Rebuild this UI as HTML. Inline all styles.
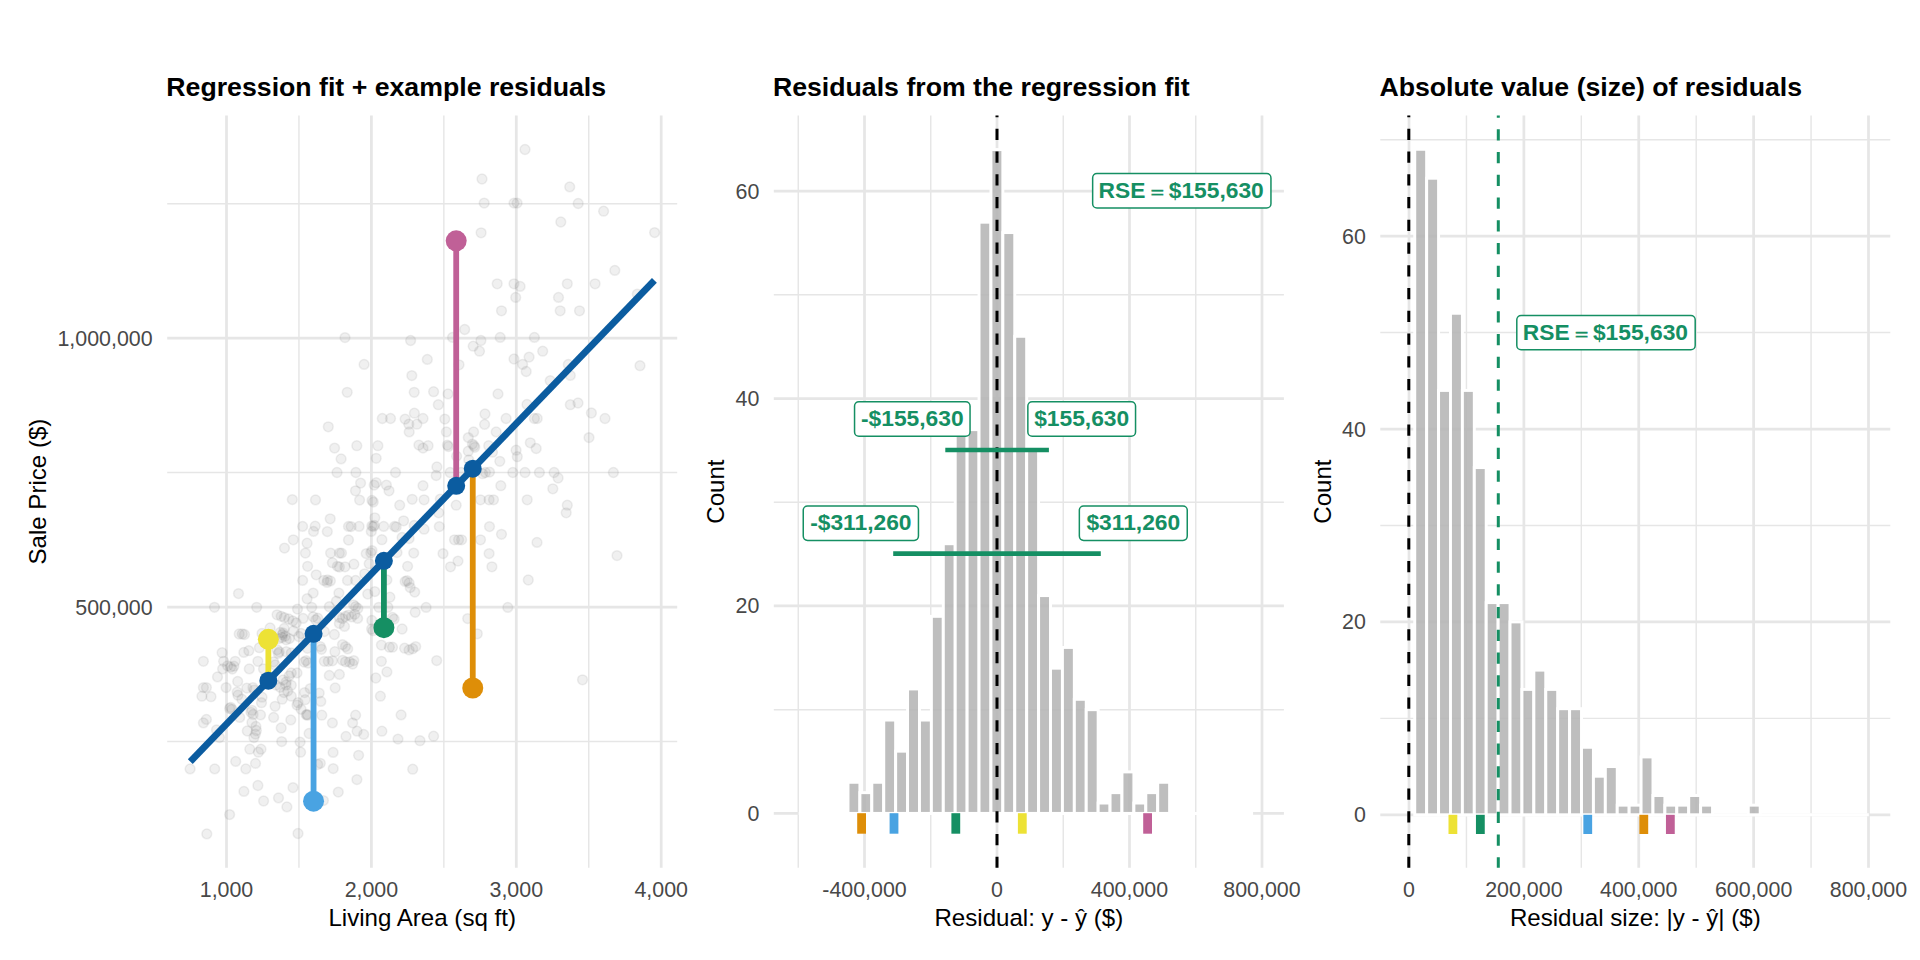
<!DOCTYPE html>
<html lang="en"><head><meta charset="utf-8"><title>Regression residuals</title>
<style>html,body{margin:0;padding:0;background:#fff;overflow:hidden}svg{display:block}</style>
</head><body>
<svg width="1920" height="960" viewBox="0 0 1920 960" font-family="'Liberation Sans', sans-serif">
<rect width="1920" height="960" fill="#fff"/>
<g id="p1">
<line x1="298.95" y1="115.5" x2="298.95" y2="867.7" stroke="#E6E6E6" stroke-width="1.45"/>
<line x1="443.85" y1="115.5" x2="443.85" y2="867.7" stroke="#E6E6E6" stroke-width="1.45"/>
<line x1="588.75" y1="115.5" x2="588.75" y2="867.7" stroke="#E6E6E6" stroke-width="1.45"/>
<line x1="167.2" y1="741.45" x2="677.2" y2="741.45" stroke="#E6E6E6" stroke-width="1.45"/>
<line x1="167.2" y1="472.55" x2="677.2" y2="472.55" stroke="#E6E6E6" stroke-width="1.45"/>
<line x1="167.2" y1="203.65" x2="677.2" y2="203.65" stroke="#E6E6E6" stroke-width="1.45"/>
<line x1="226.50" y1="115.5" x2="226.50" y2="867.7" stroke="#E6E6E6" stroke-width="2.75"/>
<line x1="371.40" y1="115.5" x2="371.40" y2="867.7" stroke="#E6E6E6" stroke-width="2.75"/>
<line x1="516.30" y1="115.5" x2="516.30" y2="867.7" stroke="#E6E6E6" stroke-width="2.75"/>
<line x1="661.20" y1="115.5" x2="661.20" y2="867.7" stroke="#E6E6E6" stroke-width="2.75"/>
<line x1="167.2" y1="607.00" x2="677.2" y2="607.00" stroke="#E6E6E6" stroke-width="2.75"/>
<line x1="167.2" y1="338.10" x2="677.2" y2="338.10" stroke="#E6E6E6" stroke-width="2.75"/>
<g fill="#7f7f7f" fill-opacity="0.115" stroke="#7f7f7f" stroke-opacity="0.12" stroke-width="1.5">
<circle cx="525.0" cy="149.5" r="4.9"/>
<circle cx="482.0" cy="179.0" r="4.9"/>
<circle cx="569.7" cy="186.9" r="4.9"/>
<circle cx="484.2" cy="203.1" r="4.9"/>
<circle cx="514.0" cy="203.1" r="4.9"/>
<circle cx="517.1" cy="203.1" r="4.9"/>
<circle cx="578.2" cy="203.5" r="4.9"/>
<circle cx="603.6" cy="211.2" r="4.9"/>
<circle cx="560.8" cy="222.0" r="4.9"/>
<circle cx="481.1" cy="232.8" r="4.9"/>
<circle cx="654.6" cy="232.6" r="4.9"/>
<circle cx="614.8" cy="270.4" r="4.9"/>
<circle cx="497.2" cy="283.8" r="4.9"/>
<circle cx="514.0" cy="283.8" r="4.9"/>
<circle cx="520.1" cy="286.4" r="4.9"/>
<circle cx="567.3" cy="283.8" r="4.9"/>
<circle cx="595.1" cy="283.8" r="4.9"/>
<circle cx="515.7" cy="297.4" r="4.9"/>
<circle cx="558.5" cy="297.4" r="4.9"/>
<circle cx="637.3" cy="294.1" r="4.9"/>
<circle cx="501.5" cy="310.8" r="4.9"/>
<circle cx="560.2" cy="310.8" r="4.9"/>
<circle cx="579.5" cy="310.8" r="4.9"/>
<circle cx="464.7" cy="329.5" r="4.9"/>
<circle cx="452.5" cy="337.4" r="4.9"/>
<circle cx="500.2" cy="337.4" r="4.9"/>
<circle cx="534.4" cy="337.4" r="4.9"/>
<circle cx="480.9" cy="340.5" r="4.9"/>
<circle cx="473.2" cy="346.2" r="4.9"/>
<circle cx="479.5" cy="351.2" r="4.9"/>
<circle cx="542.7" cy="351.2" r="4.9"/>
<circle cx="427.3" cy="359.4" r="4.9"/>
<circle cx="514.0" cy="359.0" r="4.9"/>
<circle cx="529.1" cy="357.1" r="4.9"/>
<circle cx="522.6" cy="364.4" r="4.9"/>
<circle cx="526.2" cy="371.5" r="4.9"/>
<circle cx="459.0" cy="364.8" r="4.9"/>
<circle cx="568.3" cy="364.4" r="4.9"/>
<circle cx="570.3" cy="375.4" r="4.9"/>
<circle cx="640.0" cy="365.7" r="4.9"/>
<circle cx="550.2" cy="380.7" r="4.9"/>
<circle cx="433.6" cy="391.7" r="4.9"/>
<circle cx="448.0" cy="393.9" r="4.9"/>
<circle cx="498.0" cy="393.9" r="4.9"/>
<circle cx="438.3" cy="404.7" r="4.9"/>
<circle cx="527.0" cy="404.5" r="4.9"/>
<circle cx="570.3" cy="404.7" r="4.9"/>
<circle cx="578.0" cy="403.0" r="4.9"/>
<circle cx="485.0" cy="414.0" r="4.9"/>
<circle cx="591.4" cy="413.0" r="4.9"/>
<circle cx="605.0" cy="418.5" r="4.9"/>
<circle cx="423.0" cy="418.5" r="4.9"/>
<circle cx="444.8" cy="419.1" r="4.9"/>
<circle cx="506.1" cy="418.5" r="4.9"/>
<circle cx="534.4" cy="418.5" r="4.9"/>
<circle cx="537.2" cy="418.5" r="4.9"/>
<circle cx="484.6" cy="424.4" r="4.9"/>
<circle cx="446.4" cy="431.9" r="4.9"/>
<circle cx="473.6" cy="431.9" r="4.9"/>
<circle cx="496.2" cy="431.9" r="4.9"/>
<circle cx="468.3" cy="437.6" r="4.9"/>
<circle cx="589.0" cy="437.6" r="4.9"/>
<circle cx="530.3" cy="442.8" r="4.9"/>
<circle cx="536.2" cy="448.5" r="4.9"/>
<circle cx="428.1" cy="445.7" r="4.9"/>
<circle cx="423.0" cy="448.1" r="4.9"/>
<circle cx="447.4" cy="445.1" r="4.9"/>
<circle cx="448.4" cy="446.5" r="4.9"/>
<circle cx="472.4" cy="444.1" r="4.9"/>
<circle cx="474.0" cy="445.7" r="4.9"/>
<circle cx="474.8" cy="447.3" r="4.9"/>
<circle cx="488.7" cy="445.7" r="4.9"/>
<circle cx="468.3" cy="451.2" r="4.9"/>
<circle cx="516.1" cy="450.2" r="4.9"/>
<circle cx="517.3" cy="456.7" r="4.9"/>
<circle cx="492.5" cy="452.2" r="4.9"/>
<circle cx="456.6" cy="456.2" r="4.9"/>
<circle cx="499.8" cy="461.3" r="4.9"/>
<circle cx="468.8" cy="459.9" r="4.9"/>
<circle cx="436.9" cy="467.0" r="4.9"/>
<circle cx="436.2" cy="475.5" r="4.9"/>
<circle cx="450.1" cy="472.5" r="4.9"/>
<circle cx="461.2" cy="472.5" r="4.9"/>
<circle cx="482.6" cy="473.7" r="4.9"/>
<circle cx="485.4" cy="472.5" r="4.9"/>
<circle cx="489.5" cy="472.1" r="4.9"/>
<circle cx="512.8" cy="472.5" r="4.9"/>
<circle cx="525.0" cy="472.5" r="4.9"/>
<circle cx="539.4" cy="472.5" r="4.9"/>
<circle cx="554.1" cy="472.5" r="4.9"/>
<circle cx="558.1" cy="478.0" r="4.9"/>
<circle cx="613.4" cy="472.5" r="4.9"/>
<circle cx="423.0" cy="485.7" r="4.9"/>
<circle cx="500.8" cy="485.7" r="4.9"/>
<circle cx="552.8" cy="488.8" r="4.9"/>
<circle cx="424.1" cy="499.8" r="4.9"/>
<circle cx="440.3" cy="499.1" r="4.9"/>
<circle cx="456.2" cy="505.2" r="4.9"/>
<circle cx="480.5" cy="499.8" r="4.9"/>
<circle cx="489.1" cy="499.8" r="4.9"/>
<circle cx="493.5" cy="499.8" r="4.9"/>
<circle cx="527.2" cy="499.8" r="4.9"/>
<circle cx="567.3" cy="505.2" r="4.9"/>
<circle cx="566.2" cy="512.8" r="4.9"/>
<circle cx="438.7" cy="512.8" r="4.9"/>
<circle cx="439.3" cy="526.6" r="4.9"/>
<circle cx="424.1" cy="529.2" r="4.9"/>
<circle cx="489.5" cy="526.6" r="4.9"/>
<circle cx="501.5" cy="534.3" r="4.9"/>
<circle cx="454.5" cy="539.8" r="4.9"/>
<circle cx="458.6" cy="539.8" r="4.9"/>
<circle cx="461.6" cy="539.8" r="4.9"/>
<circle cx="480.5" cy="539.8" r="4.9"/>
<circle cx="537.0" cy="542.4" r="4.9"/>
<circle cx="443.0" cy="553.6" r="4.9"/>
<circle cx="489.1" cy="553.6" r="4.9"/>
<circle cx="458.0" cy="561.1" r="4.9"/>
<circle cx="450.5" cy="566.8" r="4.9"/>
<circle cx="491.9" cy="566.8" r="4.9"/>
<circle cx="617.0" cy="555.6" r="4.9"/>
<circle cx="528.3" cy="580.0" r="4.9"/>
<circle cx="426.1" cy="607.4" r="4.9"/>
<circle cx="507.8" cy="607.4" r="4.9"/>
<circle cx="467.7" cy="618.6" r="4.9"/>
<circle cx="477.3" cy="633.8" r="4.9"/>
<circle cx="436.7" cy="660.6" r="4.9"/>
<circle cx="582.5" cy="679.8" r="4.9"/>
<circle cx="433.6" cy="736.2" r="4.9"/>
<circle cx="420.0" cy="740.7" r="4.9"/>
<circle cx="345.0" cy="337.6" r="4.9"/>
<circle cx="410.6" cy="340.5" r="4.9"/>
<circle cx="364.1" cy="364.4" r="4.9"/>
<circle cx="411.8" cy="375.6" r="4.9"/>
<circle cx="347.2" cy="392.3" r="4.9"/>
<circle cx="414.2" cy="392.3" r="4.9"/>
<circle cx="414.4" cy="413.2" r="4.9"/>
<circle cx="382.3" cy="418.5" r="4.9"/>
<circle cx="390.5" cy="418.5" r="4.9"/>
<circle cx="405.1" cy="419.1" r="4.9"/>
<circle cx="408.8" cy="424.2" r="4.9"/>
<circle cx="416.9" cy="424.2" r="4.9"/>
<circle cx="409.2" cy="431.9" r="4.9"/>
<circle cx="328.3" cy="426.8" r="4.9"/>
<circle cx="356.8" cy="445.7" r="4.9"/>
<circle cx="377.9" cy="445.7" r="4.9"/>
<circle cx="334.6" cy="448.1" r="4.9"/>
<circle cx="418.9" cy="445.1" r="4.9"/>
<circle cx="341.1" cy="458.9" r="4.9"/>
<circle cx="376.2" cy="458.3" r="4.9"/>
<circle cx="337.0" cy="472.5" r="4.9"/>
<circle cx="355.9" cy="472.5" r="4.9"/>
<circle cx="395.5" cy="472.5" r="4.9"/>
<circle cx="360.6" cy="483.1" r="4.9"/>
<circle cx="376.2" cy="482.7" r="4.9"/>
<circle cx="374.2" cy="485.1" r="4.9"/>
<circle cx="386.4" cy="485.1" r="4.9"/>
<circle cx="389.0" cy="490.8" r="4.9"/>
<circle cx="355.5" cy="490.8" r="4.9"/>
<circle cx="315.5" cy="499.9" r="4.9"/>
<circle cx="359.6" cy="500.1" r="4.9"/>
<circle cx="372.0" cy="500.4" r="4.9"/>
<circle cx="373.3" cy="502.1" r="4.9"/>
<circle cx="399.7" cy="505.2" r="4.9"/>
<circle cx="412.2" cy="499.3" r="4.9"/>
<circle cx="330.2" cy="518.8" r="4.9"/>
<circle cx="374.8" cy="517.8" r="4.9"/>
<circle cx="403.6" cy="520.8" r="4.9"/>
<circle cx="302.6" cy="526.4" r="4.9"/>
<circle cx="315.2" cy="526.2" r="4.9"/>
<circle cx="313.5" cy="531.4" r="4.9"/>
<circle cx="327.3" cy="531.6" r="4.9"/>
<circle cx="348.5" cy="526.4" r="4.9"/>
<circle cx="351.1" cy="526.6" r="4.9"/>
<circle cx="359.1" cy="526.4" r="4.9"/>
<circle cx="371.8" cy="525.9" r="4.9"/>
<circle cx="373.3" cy="526.6" r="4.9"/>
<circle cx="374.4" cy="525.4" r="4.9"/>
<circle cx="371.3" cy="531.4" r="4.9"/>
<circle cx="383.7" cy="526.4" r="4.9"/>
<circle cx="394.5" cy="526.4" r="4.9"/>
<circle cx="396.2" cy="527.0" r="4.9"/>
<circle cx="414.2" cy="525.4" r="4.9"/>
<circle cx="348.5" cy="540.0" r="4.9"/>
<circle cx="381.9" cy="539.7" r="4.9"/>
<circle cx="402.1" cy="537.5" r="4.9"/>
<circle cx="409.1" cy="538.5" r="4.9"/>
<circle cx="307.1" cy="543.2" r="4.9"/>
<circle cx="305.4" cy="553.1" r="4.9"/>
<circle cx="330.6" cy="553.1" r="4.9"/>
<circle cx="339.4" cy="553.1" r="4.9"/>
<circle cx="341.5" cy="553.1" r="4.9"/>
<circle cx="366.2" cy="553.6" r="4.9"/>
<circle cx="370.8" cy="552.8" r="4.9"/>
<circle cx="372.0" cy="550.6" r="4.9"/>
<circle cx="397.0" cy="552.6" r="4.9"/>
<circle cx="413.7" cy="553.1" r="4.9"/>
<circle cx="332.4" cy="562.7" r="4.9"/>
<circle cx="337.4" cy="566.3" r="4.9"/>
<circle cx="339.4" cy="567.0" r="4.9"/>
<circle cx="345.0" cy="566.8" r="4.9"/>
<circle cx="353.9" cy="564.2" r="4.9"/>
<circle cx="369.2" cy="563.7" r="4.9"/>
<circle cx="307.6" cy="566.3" r="4.9"/>
<circle cx="407.6" cy="566.3" r="4.9"/>
<circle cx="316.2" cy="574.8" r="4.9"/>
<circle cx="364.7" cy="573.8" r="4.9"/>
<circle cx="302.6" cy="580.4" r="4.9"/>
<circle cx="323.8" cy="580.4" r="4.9"/>
<circle cx="327.1" cy="582.4" r="4.9"/>
<circle cx="330.4" cy="580.9" r="4.9"/>
<circle cx="327.5" cy="579.9" r="4.9"/>
<circle cx="347.5" cy="580.4" r="4.9"/>
<circle cx="355.6" cy="580.4" r="4.9"/>
<circle cx="386.9" cy="579.9" r="4.9"/>
<circle cx="405.1" cy="581.4" r="4.9"/>
<circle cx="407.1" cy="580.7" r="4.9"/>
<circle cx="409.1" cy="582.9" r="4.9"/>
<circle cx="313.2" cy="593.1" r="4.9"/>
<circle cx="307.1" cy="598.7" r="4.9"/>
<circle cx="338.9" cy="593.1" r="4.9"/>
<circle cx="336.4" cy="601.2" r="4.9"/>
<circle cx="367.7" cy="594.1" r="4.9"/>
<circle cx="374.8" cy="591.6" r="4.9"/>
<circle cx="389.9" cy="597.2" r="4.9"/>
<circle cx="414.7" cy="592.1" r="4.9"/>
<circle cx="410.2" cy="587.6" r="4.9"/>
<circle cx="311.7" cy="607.3" r="4.9"/>
<circle cx="329.3" cy="606.7" r="4.9"/>
<circle cx="355.6" cy="606.7" r="4.9"/>
<circle cx="353.6" cy="605.0" r="4.9"/>
<circle cx="357.8" cy="608.5" r="4.9"/>
<circle cx="297.5" cy="609.1" r="4.9"/>
<circle cx="378.8" cy="607.3" r="4.9"/>
<circle cx="387.9" cy="607.3" r="4.9"/>
<circle cx="415.2" cy="612.3" r="4.9"/>
<circle cx="303.1" cy="618.4" r="4.9"/>
<circle cx="313.2" cy="616.8" r="4.9"/>
<circle cx="315.7" cy="619.9" r="4.9"/>
<circle cx="317.7" cy="618.2" r="4.9"/>
<circle cx="339.4" cy="617.4" r="4.9"/>
<circle cx="342.5" cy="618.6" r="4.9"/>
<circle cx="345.5" cy="616.3" r="4.9"/>
<circle cx="348.5" cy="615.1" r="4.9"/>
<circle cx="351.6" cy="616.9" r="4.9"/>
<circle cx="354.8" cy="614.3" r="4.9"/>
<circle cx="357.6" cy="618.4" r="4.9"/>
<circle cx="339.4" cy="623.4" r="4.9"/>
<circle cx="344.5" cy="626.4" r="4.9"/>
<circle cx="371.8" cy="620.4" r="4.9"/>
<circle cx="371.6" cy="629.0" r="4.9"/>
<circle cx="373.0" cy="630.7" r="4.9"/>
<circle cx="392.5" cy="617.4" r="4.9"/>
<circle cx="394.2" cy="619.1" r="4.9"/>
<circle cx="402.1" cy="629.0" r="4.9"/>
<circle cx="301.1" cy="633.5" r="4.9"/>
<circle cx="298.8" cy="636.5" r="4.9"/>
<circle cx="334.4" cy="634.5" r="4.9"/>
<circle cx="324.3" cy="631.5" r="4.9"/>
<circle cx="342.5" cy="644.6" r="4.9"/>
<circle cx="345.5" cy="646.6" r="4.9"/>
<circle cx="347.7" cy="648.9" r="4.9"/>
<circle cx="320.3" cy="646.6" r="4.9"/>
<circle cx="321.5" cy="649.3" r="4.9"/>
<circle cx="334.9" cy="651.7" r="4.9"/>
<circle cx="381.4" cy="645.1" r="4.9"/>
<circle cx="389.4" cy="647.2" r="4.9"/>
<circle cx="392.5" cy="647.2" r="4.9"/>
<circle cx="404.6" cy="648.2" r="4.9"/>
<circle cx="409.1" cy="649.9" r="4.9"/>
<circle cx="412.7" cy="648.7" r="4.9"/>
<circle cx="415.7" cy="646.6" r="4.9"/>
<circle cx="306.1" cy="660.6" r="4.9"/>
<circle cx="304.1" cy="662.0" r="4.9"/>
<circle cx="308.1" cy="663.0" r="4.9"/>
<circle cx="324.3" cy="661.3" r="4.9"/>
<circle cx="328.3" cy="661.3" r="4.9"/>
<circle cx="332.4" cy="660.8" r="4.9"/>
<circle cx="342.5" cy="660.3" r="4.9"/>
<circle cx="345.5" cy="661.8" r="4.9"/>
<circle cx="349.5" cy="662.0" r="4.9"/>
<circle cx="353.8" cy="660.6" r="4.9"/>
<circle cx="352.6" cy="664.0" r="4.9"/>
<circle cx="381.4" cy="661.3" r="4.9"/>
<circle cx="386.9" cy="671.9" r="4.9"/>
<circle cx="329.3" cy="675.4" r="4.9"/>
<circle cx="339.4" cy="674.4" r="4.9"/>
<circle cx="375.8" cy="678.0" r="4.9"/>
<circle cx="297.0" cy="672.9" r="4.9"/>
<circle cx="335.2" cy="687.9" r="4.9"/>
<circle cx="380.4" cy="696.2" r="4.9"/>
<circle cx="304.6" cy="692.6" r="4.9"/>
<circle cx="310.2" cy="688.6" r="4.9"/>
<circle cx="319.2" cy="693.1" r="4.9"/>
<circle cx="320.8" cy="701.4" r="4.9"/>
<circle cx="298.0" cy="702.7" r="4.9"/>
<circle cx="297.0" cy="705.1" r="4.9"/>
<circle cx="305.1" cy="699.7" r="4.9"/>
<circle cx="301.1" cy="709.3" r="4.9"/>
<circle cx="306.3" cy="714.9" r="4.9"/>
<circle cx="307.7" cy="715.2" r="4.9"/>
<circle cx="307.1" cy="714.4" r="4.9"/>
<circle cx="321.8" cy="715.2" r="4.9"/>
<circle cx="332.4" cy="722.9" r="4.9"/>
<circle cx="355.6" cy="715.2" r="4.9"/>
<circle cx="352.6" cy="722.9" r="4.9"/>
<circle cx="357.1" cy="731.2" r="4.9"/>
<circle cx="363.7" cy="734.4" r="4.9"/>
<circle cx="346.0" cy="736.4" r="4.9"/>
<circle cx="381.9" cy="731.2" r="4.9"/>
<circle cx="401.1" cy="714.9" r="4.9"/>
<circle cx="398.0" cy="739.1" r="4.9"/>
<circle cx="309.1" cy="733.5" r="4.9"/>
<circle cx="300.1" cy="742.1" r="4.9"/>
<circle cx="300.6" cy="752.2" r="4.9"/>
<circle cx="333.1" cy="752.4" r="4.9"/>
<circle cx="358.6" cy="755.3" r="4.9"/>
<circle cx="320.3" cy="763.3" r="4.9"/>
<circle cx="317.7" cy="764.5" r="4.9"/>
<circle cx="333.2" cy="768.6" r="4.9"/>
<circle cx="412.7" cy="769.2" r="4.9"/>
<circle cx="190.1" cy="768.9" r="4.9"/>
<circle cx="214.7" cy="768.9" r="4.9"/>
<circle cx="235.7" cy="761.4" r="4.9"/>
<circle cx="255.5" cy="763.4" r="4.9"/>
<circle cx="245.8" cy="768.9" r="4.9"/>
<circle cx="257.9" cy="785.5" r="4.9"/>
<circle cx="243.9" cy="791.4" r="4.9"/>
<circle cx="293.0" cy="787.6" r="4.9"/>
<circle cx="278.5" cy="797.9" r="4.9"/>
<circle cx="263.6" cy="801.0" r="4.9"/>
<circle cx="286.9" cy="806.9" r="4.9"/>
<circle cx="338.3" cy="792.1" r="4.9"/>
<circle cx="356.9" cy="779.6" r="4.9"/>
<circle cx="323.4" cy="800.6" r="4.9"/>
<circle cx="229.6" cy="814.6" r="4.9"/>
<circle cx="206.8" cy="833.9" r="4.9"/>
<circle cx="298.0" cy="833.5" r="4.9"/>
<circle cx="292.3" cy="499.6" r="4.9"/>
<circle cx="284.5" cy="548.1" r="4.9"/>
<circle cx="293.3" cy="539.8" r="4.9"/>
<circle cx="238.5" cy="593.6" r="4.9"/>
<circle cx="214.5" cy="607.3" r="4.9"/>
<circle cx="256.7" cy="607.3" r="4.9"/>
<circle cx="277.1" cy="614.8" r="4.9"/>
<circle cx="281.2" cy="616.3" r="4.9"/>
<circle cx="284.4" cy="617.6" r="4.9"/>
<circle cx="288.7" cy="619.0" r="4.9"/>
<circle cx="292.8" cy="620.9" r="4.9"/>
<circle cx="270.1" cy="628.0" r="4.9"/>
<circle cx="284.2" cy="628.5" r="4.9"/>
<circle cx="239.2" cy="634.0" r="4.9"/>
<circle cx="242.3" cy="634.0" r="4.9"/>
<circle cx="244.5" cy="634.5" r="4.9"/>
<circle cx="262.0" cy="633.5" r="4.9"/>
<circle cx="280.2" cy="632.5" r="4.9"/>
<circle cx="282.4" cy="634.7" r="4.9"/>
<circle cx="286.2" cy="639.8" r="4.9"/>
<circle cx="289.4" cy="638.6" r="4.9"/>
<circle cx="279.1" cy="638.6" r="4.9"/>
<circle cx="259.4" cy="647.7" r="4.9"/>
<circle cx="243.8" cy="652.4" r="4.9"/>
<circle cx="248.8" cy="650.7" r="4.9"/>
<circle cx="222.1" cy="652.7" r="4.9"/>
<circle cx="277.1" cy="649.7" r="4.9"/>
<circle cx="279.3" cy="651.9" r="4.9"/>
<circle cx="286.2" cy="651.7" r="4.9"/>
<circle cx="291.3" cy="652.9" r="4.9"/>
<circle cx="203.4" cy="661.3" r="4.9"/>
<circle cx="223.6" cy="661.3" r="4.9"/>
<circle cx="235.2" cy="661.3" r="4.9"/>
<circle cx="257.9" cy="661.3" r="4.9"/>
<circle cx="227.6" cy="665.8" r="4.9"/>
<circle cx="230.7" cy="667.1" r="4.9"/>
<circle cx="232.3" cy="669.1" r="4.9"/>
<circle cx="233.9" cy="666.2" r="4.9"/>
<circle cx="222.6" cy="668.9" r="4.9"/>
<circle cx="249.3" cy="668.9" r="4.9"/>
<circle cx="275.1" cy="665.0" r="4.9"/>
<circle cx="273.6" cy="661.8" r="4.9"/>
<circle cx="263.5" cy="668.9" r="4.9"/>
<circle cx="217.5" cy="676.9" r="4.9"/>
<circle cx="291.3" cy="672.9" r="4.9"/>
<circle cx="289.2" cy="675.9" r="4.9"/>
<circle cx="237.7" cy="681.5" r="4.9"/>
<circle cx="203.4" cy="687.6" r="4.9"/>
<circle cx="206.4" cy="687.6" r="4.9"/>
<circle cx="201.9" cy="696.2" r="4.9"/>
<circle cx="211.0" cy="696.7" r="4.9"/>
<circle cx="226.1" cy="687.6" r="4.9"/>
<circle cx="246.8" cy="688.1" r="4.9"/>
<circle cx="252.9" cy="687.6" r="4.9"/>
<circle cx="254.1" cy="690.1" r="4.9"/>
<circle cx="237.2" cy="692.1" r="4.9"/>
<circle cx="237.9" cy="695.2" r="4.9"/>
<circle cx="241.8" cy="699.2" r="4.9"/>
<circle cx="230.7" cy="707.3" r="4.9"/>
<circle cx="229.6" cy="708.5" r="4.9"/>
<circle cx="231.9" cy="709.3" r="4.9"/>
<circle cx="239.7" cy="717.4" r="4.9"/>
<circle cx="262.0" cy="697.2" r="4.9"/>
<circle cx="261.5" cy="702.7" r="4.9"/>
<circle cx="275.1" cy="706.3" r="4.9"/>
<circle cx="282.2" cy="699.2" r="4.9"/>
<circle cx="291.3" cy="696.2" r="4.9"/>
<circle cx="251.9" cy="710.3" r="4.9"/>
<circle cx="253.1" cy="714.4" r="4.9"/>
<circle cx="250.9" cy="712.3" r="4.9"/>
<circle cx="260.5" cy="714.9" r="4.9"/>
<circle cx="273.6" cy="717.4" r="4.9"/>
<circle cx="290.8" cy="719.9" r="4.9"/>
<circle cx="206.4" cy="719.4" r="4.9"/>
<circle cx="203.4" cy="722.9" r="4.9"/>
<circle cx="216.5" cy="730.0" r="4.9"/>
<circle cx="219.5" cy="737.6" r="4.9"/>
<circle cx="251.9" cy="722.4" r="4.9"/>
<circle cx="255.9" cy="726.5" r="4.9"/>
<circle cx="247.3" cy="731.0" r="4.9"/>
<circle cx="256.4" cy="730.5" r="4.9"/>
<circle cx="255.4" cy="734.1" r="4.9"/>
<circle cx="253.9" cy="737.6" r="4.9"/>
<circle cx="281.2" cy="728.0" r="4.9"/>
<circle cx="281.7" cy="741.6" r="4.9"/>
<circle cx="249.8" cy="749.2" r="4.9"/>
<circle cx="261.0" cy="749.2" r="4.9"/>
<circle cx="258.4" cy="752.2" r="4.9"/>
<circle cx="276.1" cy="685.1" r="4.9"/>
<circle cx="280.2" cy="687.3" r="4.9"/>
<circle cx="286.2" cy="682.0" r="4.9"/>
<circle cx="291.3" cy="685.3" r="4.9"/>
<circle cx="287.7" cy="691.1" r="4.9"/>
<circle cx="296.2" cy="622.9" r="4.9"/>
<circle cx="307.5" cy="648.3" r="4.9"/>
<circle cx="293.5" cy="631.0" r="4.9"/>
<circle cx="283.0" cy="633.0" r="4.9"/>
<circle cx="285.2" cy="636.2" r="4.9"/>
<circle cx="282.0" cy="637.5" r="4.9"/>
<circle cx="278.3" cy="653.4" r="4.9"/>
<circle cx="283.0" cy="680.0" r="4.9"/>
<circle cx="286.0" cy="685.0" r="4.9"/>
<circle cx="284.0" cy="692.5" r="4.9"/>
</g>
<line x1="268.35" y1="639.3" x2="268.35" y2="680.66" stroke="#EDE235" stroke-width="5.8"/>
<line x1="313.55" y1="801.2" x2="313.55" y2="633.78" stroke="#49A3E2" stroke-width="5.8"/>
<line x1="383.9" y1="627.7" x2="383.9" y2="560.82" stroke="#158F63" stroke-width="5.8"/>
<line x1="456.2" y1="240.85" x2="456.2" y2="485.85" stroke="#C06097" stroke-width="5.8"/>
<line x1="472.75" y1="688.0" x2="472.75" y2="468.68" stroke="#DE8E08" stroke-width="5.8"/>
<line x1="190.3" y1="761.6" x2="654.4" y2="280.3" stroke="#0B5CA0" stroke-width="6.8"/>
<circle cx="268.35" cy="639.3" r="10.5" fill="#EDE235"/>
<circle cx="313.55" cy="801.2" r="10.5" fill="#49A3E2"/>
<circle cx="383.9" cy="627.7" r="10.5" fill="#158F63"/>
<circle cx="456.2" cy="240.85" r="10.5" fill="#C06097"/>
<circle cx="472.75" cy="688.0" r="10.5" fill="#DE8E08"/>
<circle cx="268.35" cy="680.66" r="9.0" fill="#0B5CA0"/>
<circle cx="313.55" cy="633.78" r="9.0" fill="#0B5CA0"/>
<circle cx="383.9" cy="560.82" r="9.0" fill="#0B5CA0"/>
<circle cx="456.2" cy="485.85" r="9.0" fill="#0B5CA0"/>
<circle cx="472.75" cy="468.68" r="9.0" fill="#0B5CA0"/>
</g>
<text x="226.50" y="896.9" font-size="21.4" fill="#484848" text-anchor="middle">1,000</text>
<text x="371.40" y="896.9" font-size="21.4" fill="#484848" text-anchor="middle">2,000</text>
<text x="516.30" y="896.9" font-size="21.4" fill="#484848" text-anchor="middle">3,000</text>
<text x="661.20" y="896.9" font-size="21.4" fill="#484848" text-anchor="middle">4,000</text>
<text x="152.60" y="614.50" font-size="21.4" fill="#484848" text-anchor="end">500,000</text>
<text x="152.60" y="345.60" font-size="21.4" fill="#484848" text-anchor="end">1,000,000</text>
<text x="422.20" y="926.2" font-size="24.1" fill="#000" text-anchor="middle">Living Area (sq ft)</text>
<text transform="translate(45.70,491.60) rotate(-90)" font-size="24.1" fill="#000" text-anchor="middle">Sale Price ($)</text>
<text x="166.30" y="96.2" font-size="26.7" font-weight="bold" fill="#000">Regression fit + example residuals</text>
<g id="p2">
<line x1="798.25" y1="115.5" x2="798.25" y2="867.7" stroke="#E6E6E6" stroke-width="1.45"/>
<line x1="930.75" y1="115.5" x2="930.75" y2="867.7" stroke="#E6E6E6" stroke-width="1.45"/>
<line x1="1063.25" y1="115.5" x2="1063.25" y2="867.7" stroke="#E6E6E6" stroke-width="1.45"/>
<line x1="1195.75" y1="115.5" x2="1195.75" y2="867.7" stroke="#E6E6E6" stroke-width="1.45"/>
<line x1="773.8" y1="709.68" x2="1283.9" y2="709.68" stroke="#E6E6E6" stroke-width="1.45"/>
<line x1="773.8" y1="502.24" x2="1283.9" y2="502.24" stroke="#E6E6E6" stroke-width="1.45"/>
<line x1="773.8" y1="294.80" x2="1283.9" y2="294.80" stroke="#E6E6E6" stroke-width="1.45"/>
<line x1="864.50" y1="115.5" x2="864.50" y2="867.7" stroke="#E6E6E6" stroke-width="2.75"/>
<line x1="997.00" y1="115.5" x2="997.00" y2="867.7" stroke="#E6E6E6" stroke-width="2.75"/>
<line x1="1129.50" y1="115.5" x2="1129.50" y2="867.7" stroke="#E6E6E6" stroke-width="2.75"/>
<line x1="1262.00" y1="115.5" x2="1262.00" y2="867.7" stroke="#E6E6E6" stroke-width="2.75"/>
<line x1="773.8" y1="813.40" x2="1283.9" y2="813.40" stroke="#E6E6E6" stroke-width="2.75"/>
<line x1="773.8" y1="605.96" x2="1283.9" y2="605.96" stroke="#E6E6E6" stroke-width="2.75"/>
<line x1="773.8" y1="398.52" x2="1283.9" y2="398.52" stroke="#E6E6E6" stroke-width="2.75"/>
<line x1="773.8" y1="191.08" x2="1283.9" y2="191.08" stroke="#E6E6E6" stroke-width="2.75"/>
<line x1="798.7" y1="813.4" x2="1253.1" y2="813.4" stroke="#fff" stroke-width="2.95"/>
<g fill="#B3B3B3" fill-opacity="0.85" stroke="#fff" stroke-width="2.95">
<rect x="848.00" y="782.28" width="11.91" height="31.12"/>
<rect x="859.91" y="792.66" width="11.91" height="20.74"/>
<rect x="871.82" y="782.28" width="11.91" height="31.12"/>
<rect x="883.74" y="720.05" width="11.91" height="93.35"/>
<rect x="895.65" y="751.17" width="11.91" height="62.23"/>
<rect x="907.56" y="688.94" width="11.91" height="124.46"/>
<rect x="919.47" y="720.05" width="11.91" height="93.35"/>
<rect x="931.38" y="616.33" width="11.91" height="197.07"/>
<rect x="943.30" y="543.73" width="11.91" height="269.67"/>
<rect x="955.21" y="429.64" width="11.91" height="383.76"/>
<rect x="967.12" y="429.64" width="11.91" height="383.76"/>
<rect x="979.03" y="222.20" width="11.91" height="591.20"/>
<rect x="990.94" y="149.59" width="11.91" height="663.81"/>
<rect x="1002.86" y="232.57" width="11.91" height="580.83"/>
<rect x="1014.77" y="336.29" width="11.91" height="477.11"/>
<rect x="1026.68" y="450.38" width="11.91" height="363.02"/>
<rect x="1038.59" y="595.59" width="11.91" height="217.81"/>
<rect x="1050.50" y="668.19" width="11.91" height="145.21"/>
<rect x="1062.42" y="647.45" width="11.91" height="165.95"/>
<rect x="1074.33" y="699.31" width="11.91" height="114.09"/>
<rect x="1086.24" y="709.68" width="11.91" height="103.72"/>
<rect x="1098.15" y="803.03" width="11.91" height="10.37"/>
<rect x="1110.06" y="792.66" width="11.91" height="20.74"/>
<rect x="1121.98" y="771.91" width="11.91" height="41.49"/>
<rect x="1133.89" y="803.03" width="11.91" height="10.37"/>
<rect x="1145.80" y="792.66" width="11.91" height="20.74"/>
<rect x="1157.71" y="782.28" width="11.91" height="31.12"/>
</g>
<rect x="857.20" y="813.2" width="8.8" height="20.5" fill="#DE8E08"/>
<rect x="889.60" y="813.2" width="8.8" height="20.5" fill="#49A3E2"/>
<rect x="951.40" y="813.2" width="8.8" height="20.5" fill="#158F63"/>
<rect x="1017.90" y="813.2" width="8.8" height="20.5" fill="#EDE235"/>
<rect x="1143.20" y="813.2" width="8.8" height="20.5" fill="#C06097"/>
<line x1="997" y1="867.7" x2="997" y2="115.5" stroke="#000" stroke-width="3.0" stroke-dasharray="11.375 11.375" stroke-dashoffset="0.4"/>
<line x1="945.3" y1="450" x2="1048.9" y2="450" stroke="#158F63" stroke-width="4.6"/>
<line x1="893.2" y1="553.6" x2="1100.8" y2="553.6" stroke="#158F63" stroke-width="4.6"/>
<rect x="854.55" y="401.80" width="115.50" height="34.40" rx="4.3" fill="#fff" stroke="#158F63" stroke-width="1.5"/>
<text x="912.30" y="426.20" font-size="22.8" font-weight="bold" fill="#158F63" text-anchor="middle">-$155,630</text>
<rect x="1027.85" y="401.80" width="107.70" height="34.40" rx="4.3" fill="#fff" stroke="#158F63" stroke-width="1.5"/>
<text x="1081.70" y="426.20" font-size="22.8" font-weight="bold" fill="#158F63" text-anchor="middle">$155,630</text>
<rect x="803.25" y="506.00" width="115.20" height="34.40" rx="4.3" fill="#fff" stroke="#158F63" stroke-width="1.5"/>
<text x="860.85" y="530.40" font-size="22.8" font-weight="bold" fill="#158F63" text-anchor="middle">-$311,260</text>
<rect x="1079.35" y="506.00" width="107.90" height="34.40" rx="4.3" fill="#fff" stroke="#158F63" stroke-width="1.5"/>
<text x="1133.30" y="530.40" font-size="22.8" font-weight="bold" fill="#158F63" text-anchor="middle">$311,260</text>
<rect x="1092.65" y="173.60" width="178.30" height="34.40" rx="4.3" fill="#fff" stroke="#158F63" stroke-width="1.5"/>
<g font-size="22.8" font-weight="bold" fill="#158F63">
<text x="1098.60" y="198.00">RSE</text>
<text transform="translate(1157.25,196.99) scale(1,0.53)" font-size="22.5" text-anchor="middle" stroke="#158F63" stroke-width="0.5">=</text>
<text x="1263.80" y="198.00" text-anchor="end">$155,630</text>
</g>
</g>
<text x="864.50" y="896.9" font-size="21.4" fill="#484848" text-anchor="middle">-400,000</text>
<text x="997.00" y="896.9" font-size="21.4" fill="#484848" text-anchor="middle">0</text>
<text x="1129.50" y="896.9" font-size="21.4" fill="#484848" text-anchor="middle">400,000</text>
<text x="1262.00" y="896.9" font-size="21.4" fill="#484848" text-anchor="middle">800,000</text>
<text x="759.40" y="820.90" font-size="21.4" fill="#484848" text-anchor="end">0</text>
<text x="759.40" y="613.46" font-size="21.4" fill="#484848" text-anchor="end">20</text>
<text x="759.40" y="406.02" font-size="21.4" fill="#484848" text-anchor="end">40</text>
<text x="759.40" y="198.58" font-size="21.4" fill="#484848" text-anchor="end">60</text>
<text x="1028.85" y="926.2" font-size="24.1" fill="#000" text-anchor="middle">Residual: y - ŷ ($)</text>
<text transform="translate(724.30,491.60) rotate(-90)" font-size="24.1" fill="#000" text-anchor="middle">Count</text>
<text x="772.90" y="96.2" font-size="26.7" font-weight="bold" fill="#000">Residuals from the regression fit</text>
<g id="p3">
<line x1="1466.44" y1="115.5" x2="1466.44" y2="867.7" stroke="#E6E6E6" stroke-width="1.45"/>
<line x1="1581.31" y1="115.5" x2="1581.31" y2="867.7" stroke="#E6E6E6" stroke-width="1.45"/>
<line x1="1696.19" y1="115.5" x2="1696.19" y2="867.7" stroke="#E6E6E6" stroke-width="1.45"/>
<line x1="1811.06" y1="115.5" x2="1811.06" y2="867.7" stroke="#E6E6E6" stroke-width="1.45"/>
<line x1="1380.3" y1="718.35" x2="1890.3" y2="718.35" stroke="#E6E6E6" stroke-width="1.45"/>
<line x1="1380.3" y1="525.45" x2="1890.3" y2="525.45" stroke="#E6E6E6" stroke-width="1.45"/>
<line x1="1380.3" y1="332.55" x2="1890.3" y2="332.55" stroke="#E6E6E6" stroke-width="1.45"/>
<line x1="1380.3" y1="139.65" x2="1890.3" y2="139.65" stroke="#E6E6E6" stroke-width="1.45"/>
<line x1="1409.00" y1="115.5" x2="1409.00" y2="867.7" stroke="#E6E6E6" stroke-width="2.75"/>
<line x1="1523.88" y1="115.5" x2="1523.88" y2="867.7" stroke="#E6E6E6" stroke-width="2.75"/>
<line x1="1638.75" y1="115.5" x2="1638.75" y2="867.7" stroke="#E6E6E6" stroke-width="2.75"/>
<line x1="1753.62" y1="115.5" x2="1753.62" y2="867.7" stroke="#E6E6E6" stroke-width="2.75"/>
<line x1="1868.50" y1="115.5" x2="1868.50" y2="867.7" stroke="#E6E6E6" stroke-width="2.75"/>
<line x1="1380.3" y1="814.80" x2="1890.3" y2="814.80" stroke="#E6E6E6" stroke-width="2.75"/>
<line x1="1380.3" y1="621.90" x2="1890.3" y2="621.90" stroke="#E6E6E6" stroke-width="2.75"/>
<line x1="1380.3" y1="429.00" x2="1890.3" y2="429.00" stroke="#E6E6E6" stroke-width="2.75"/>
<line x1="1380.3" y1="236.10" x2="1890.3" y2="236.10" stroke="#E6E6E6" stroke-width="2.75"/>
<line x1="1414.74" y1="814.8" x2="1868.8" y2="814.8" stroke="#fff" stroke-width="2.95"/>
<g fill="#B3B3B3" fill-opacity="0.85" stroke="#fff" stroke-width="2.95">
<rect x="1414.74" y="149.29" width="11.91" height="665.50"/>
<rect x="1426.66" y="178.23" width="11.91" height="636.57"/>
<rect x="1438.57" y="390.42" width="11.91" height="424.38"/>
<rect x="1450.48" y="313.26" width="11.91" height="501.54"/>
<rect x="1462.39" y="390.42" width="11.91" height="424.38"/>
<rect x="1474.30" y="467.58" width="11.91" height="347.22"/>
<rect x="1486.22" y="602.61" width="11.91" height="212.19"/>
<rect x="1498.13" y="602.61" width="11.91" height="212.19"/>
<rect x="1510.04" y="621.90" width="11.91" height="192.90"/>
<rect x="1521.95" y="689.41" width="11.91" height="125.38"/>
<rect x="1533.86" y="670.12" width="11.91" height="144.67"/>
<rect x="1545.78" y="689.41" width="11.91" height="125.38"/>
<rect x="1557.69" y="708.70" width="11.91" height="106.10"/>
<rect x="1569.60" y="708.70" width="11.91" height="106.10"/>
<rect x="1581.51" y="747.28" width="11.91" height="67.51"/>
<rect x="1593.42" y="776.22" width="11.91" height="38.58"/>
<rect x="1605.34" y="766.57" width="11.91" height="48.23"/>
<rect x="1617.25" y="805.15" width="11.91" height="9.64"/>
<rect x="1629.16" y="805.15" width="11.91" height="9.64"/>
<rect x="1641.07" y="756.93" width="11.91" height="57.87"/>
<rect x="1652.98" y="795.51" width="11.91" height="19.29"/>
<rect x="1664.90" y="805.15" width="11.91" height="9.64"/>
<rect x="1676.81" y="805.15" width="11.91" height="9.64"/>
<rect x="1688.72" y="795.51" width="11.91" height="19.29"/>
<rect x="1700.63" y="805.15" width="11.91" height="9.64"/>
<rect x="1712.54" y="814.80" width="11.91" height="0.00"/>
<rect x="1724.46" y="814.80" width="11.91" height="0.00"/>
<rect x="1736.37" y="814.80" width="11.91" height="0.00"/>
<rect x="1748.28" y="805.15" width="11.91" height="9.64"/>
</g>
<rect x="1448.50" y="814.8" width="8.8" height="19.2" fill="#EDE235"/>
<rect x="1475.95" y="814.8" width="8.8" height="19.2" fill="#158F63"/>
<rect x="1583.35" y="814.8" width="8.8" height="19.2" fill="#49A3E2"/>
<rect x="1639.40" y="814.8" width="8.8" height="19.2" fill="#DE8E08"/>
<rect x="1665.95" y="814.8" width="8.8" height="19.2" fill="#C06097"/>
<line x1="1408.8" y1="867.7" x2="1408.8" y2="115.5" stroke="#000" stroke-width="3.0" stroke-dasharray="11.375 11.375" stroke-dashoffset="0.4"/>
<line x1="1498.3" y1="867.7" x2="1498.3" y2="115.5" stroke="#158F63" stroke-width="3.0" stroke-dasharray="11.375 11.375" stroke-dashoffset="0.9"/>
<rect x="1516.80" y="315.40" width="178.40" height="34.40" rx="4.3" fill="#fff" stroke="#158F63" stroke-width="1.5"/>
<g font-size="22.8" font-weight="bold" fill="#158F63">
<text x="1522.80" y="339.80">RSE</text>
<text transform="translate(1581.45,338.79) scale(1,0.53)" font-size="22.5" text-anchor="middle" stroke="#158F63" stroke-width="0.5">=</text>
<text x="1688.00" y="339.80" text-anchor="end">$155,630</text>
</g>
</g>
<text x="1409.00" y="896.9" font-size="21.4" fill="#484848" text-anchor="middle">0</text>
<text x="1523.88" y="896.9" font-size="21.4" fill="#484848" text-anchor="middle">200,000</text>
<text x="1638.75" y="896.9" font-size="21.4" fill="#484848" text-anchor="middle">400,000</text>
<text x="1753.62" y="896.9" font-size="21.4" fill="#484848" text-anchor="middle">600,000</text>
<text x="1868.50" y="896.9" font-size="21.4" fill="#484848" text-anchor="middle">800,000</text>
<text x="1365.90" y="822.30" font-size="21.4" fill="#484848" text-anchor="end">0</text>
<text x="1365.90" y="629.40" font-size="21.4" fill="#484848" text-anchor="end">20</text>
<text x="1365.90" y="436.50" font-size="21.4" fill="#484848" text-anchor="end">40</text>
<text x="1365.90" y="243.60" font-size="21.4" fill="#484848" text-anchor="end">60</text>
<text x="1635.30" y="926.2" font-size="24.1" fill="#000" text-anchor="middle">Residual size: |y - ŷ| ($)</text>
<text transform="translate(1330.80,491.60) rotate(-90)" font-size="24.1" fill="#000" text-anchor="middle">Count</text>
<text x="1379.40" y="96.2" font-size="26.7" font-weight="bold" fill="#000">Absolute value (size) of residuals</text>
</svg>
</body></html>
